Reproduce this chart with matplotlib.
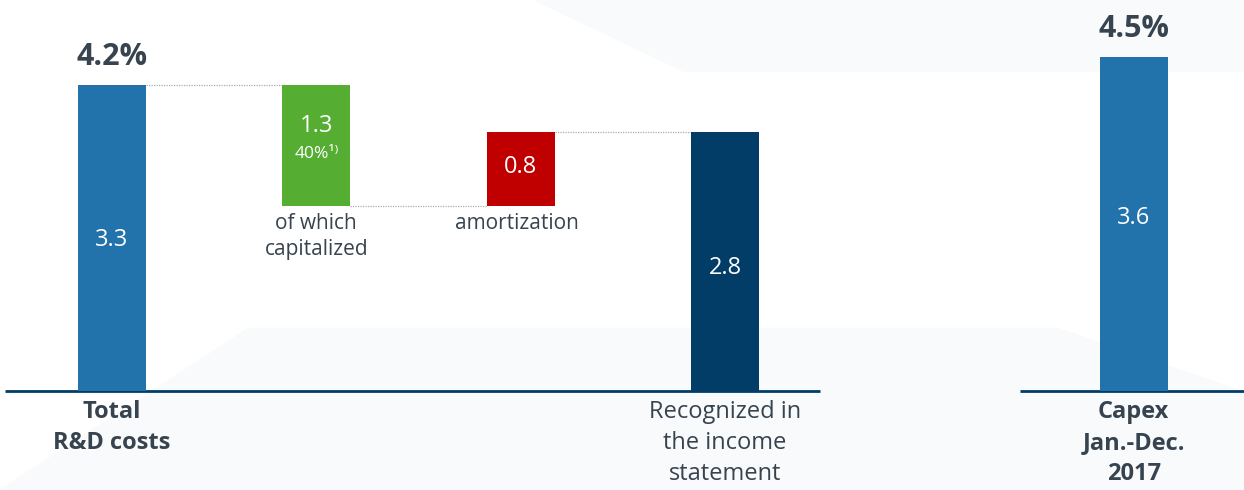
import matplotlib.pyplot as plt
from matplotlib.patches import Polygon

# R&D cost bridge, values in EUR bn
categories = ['Total\nR&D costs', 'of which\ncapitalized', 'amortization',
              'Recognized in\nthe income\nstatement', 'Capex\nJan.-Dec.\n2017']
values = [3.3, 1.3, 0.8, 2.8, 3.6]
positions = [0, 1, 2, 3, 5]
pct_labels = ['4.2%', '', '', '', '4.5%']
share_label = '40%¹⁾'

colors = ['#2272ab', '#55ae32', '#c00000', '#023d67', '#2272ab']
text_col = '#37444f'
plt.rcParams['font.family'] = ['Open Sans', 'DejaVu Sans']

# floating bars: capitalized hangs from the total, amortization sits on the same level
bottoms = [0, values[0] - values[1], values[0] - values[1], 0, 0]

fig = plt.figure(figsize=(12.44, 4.90), dpi=100)

# faint background shapes (slide decoration)
bg = '#f9fafb'
fig.patches.append(Polygon([(0.43, 1), (1, 1), (1, 0.855), (0.55, 0.855)],
                           closed=True, transform=fig.transFigure, color=bg, zorder=-10))
fig.patches.append(Polygon([(0.0, 0.0), (0.2, 0.33), (0.85, 0.33), (1, 0.2), (1, 0)],
                           closed=True, transform=fig.transFigure, color=bg, zorder=-10))

ax = fig.add_axes([0, 0.202, 1, 0.798])
ax.patch.set_alpha(0)
w = 0.333
ax.bar(positions, values, width=w, bottom=bottoms, color=colors, zorder=3)
ax.set_xlim(-0.548, 5.54)
ax.set_ylim(0, 4.22)
ax.axis('off')

# baselines
ax.plot([-0.524, 3.465], [0, 0], color='#023d67', lw=2, solid_capstyle='butt', clip_on=False)
ax.plot([4.444, 5.6], [0, 0], color='#023d67', lw=2, solid_capstyle='butt', clip_on=False)

# dotted connectors
conn = [(0, 1, values[0]), (1, 2, bottoms[1]), (2, 3, bottoms[2] + values[2])]
for a, b, y in conn:
    ax.plot([positions[a] + w / 2, positions[b] - w / 2], [y, y],
            ls=(0, (1, 1)), color='#a8aeb3', lw=0.9, zorder=2)

# values inside bars
mids = [1.63, 2.86, 2.42, 1.33, 1.87]
for x, y, v in zip(positions, mids, values):
    ax.text(x, y, f'{v:.1f}', color='white', fontsize=17, ha='center', va='center', zorder=4)
ax.text(positions[1], 2.56, share_label, color='white', fontsize=12.5,
        ha='center', va='center', zorder=4)

# percent on top
for x, v, b, p in zip(positions, values, bottoms, pct_labels):
    if p:
        ax.annotate(p, (x, b + v), xytext=(0, 28), textcoords='offset pixels',
                    ha='center', va='center', fontsize=22, fontweight='bold', color=text_col)

# category labels
for i in [0, 3, 4]:
    ax.annotate(categories[i], (positions[i], 0), xytext=(0, -9), textcoords='offset pixels',
                ha='center', va='top', fontsize=17, color=text_col, linespacing=1.38,
                fontweight='bold' if i != 3 else 'normal', annotation_clip=False)
for i, dx in [(1, 0), (2, -0.02)]:
    ax.annotate(categories[i], (positions[i] + dx, bottoms[i]), xytext=(0, -7),
                textcoords='offset pixels', ha='center', va='top', fontsize=15,
                color=text_col, linespacing=1.3)

fig.savefig('out.png', dpi=100, facecolor='white')
